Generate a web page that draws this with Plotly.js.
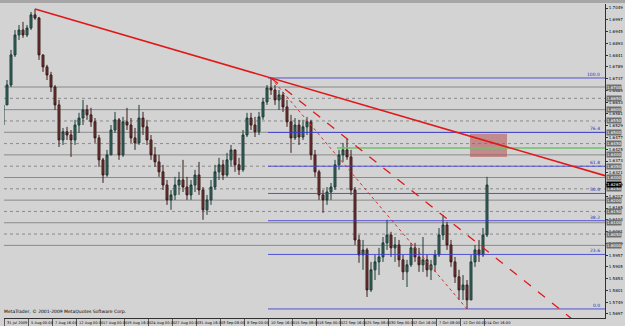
<!DOCTYPE html>
<html><head><meta charset="utf-8">
<script src="https://cdn.plot.ly/plotly-3.0.1.min.js"></script>
<style>html,body{margin:0;padding:0;background:#d3d3d3;}#chart{width:625px;height:326px;}</style>
</head><body><div id="chart"></div>
<script>
// ---- data (GBPUSD H4; each candle = one plotted bar) ----
const opens = [1.6532,1.6621,1.6709,1.6842,1.6930,1.6952,1.6930,1.6961,1.7019,1.7005,
1.6842,1.6789,1.6753,1.6700,1.6621,1.6466,1.6502,1.6488,1.6466,1.6532,
1.6563,1.6599,1.6577,1.6546,1.6475,1.6378,1.6311,1.6400,1.6510,1.6555,
1.6400,1.6546,1.6532,1.6475,1.6453,1.6563,1.6524,1.6466,1.6400,1.6369,
1.6325,1.6267,1.6201,1.6223,1.6267,1.6289,1.6258,1.6223,1.6267,1.6311,
1.6245,1.6157,1.6201,1.6258,1.6325,1.6356,1.6311,1.6378,1.6422,1.6356,
1.6334,1.6488,1.6563,1.6532,1.6502,1.6568,1.6634,1.6696,1.6687,1.6643,
1.6665,1.6612,1.6546,1.6475,1.6532,1.6479,1.6524,1.6546,1.6400,1.6325,
1.6223,1.6201,1.6236,1.6258,1.6356,1.6400,1.6422,1.6391,1.6245,1.6024,
1.5958,1.5980,1.5803,1.5892,1.5927,1.5949,1.6011,1.6046,1.5989,1.6002,
1.5936,1.5883,1.5914,1.5989,1.5949,1.5914,1.5936,1.5892,1.5914,1.5958,
1.6046,1.6090,1.6002,1.5927,1.5861,1.5803,1.5825,1.5759,1.5927,1.5980,
1.5958,1.6046];
const highs = [1.6643,1.6731,1.6864,1.6952,1.6974,1.6988,1.6974,1.7032,1.7045,1.7010,
1.6842,1.6798,1.6767,1.6709,1.6643,1.6519,1.6524,1.6510,1.6555,1.6586,
1.6643,1.6621,1.6608,1.6563,1.6488,1.6387,1.6422,1.6532,1.6590,1.6563,
1.6568,1.6608,1.6563,1.6519,1.6621,1.6590,1.6555,1.6488,1.6435,1.6400,
1.6356,1.6289,1.6245,1.6303,1.6325,1.6378,1.6303,1.6289,1.6334,1.6369,
1.6258,1.6223,1.6289,1.6356,1.6387,1.6378,1.6409,1.6444,1.6422,1.6387,
1.6510,1.6586,1.6586,1.6568,1.6590,1.6652,1.6709,1.6740,1.6709,1.6687,
1.6678,1.6643,1.6577,1.6563,1.6555,1.6555,1.6568,1.6555,1.6422,1.6334,
1.6245,1.6258,1.6276,1.6378,1.6422,1.6453,1.6471,1.6422,1.6258,1.6046,
1.6024,1.5989,1.5927,1.5958,1.5989,1.6037,1.6113,1.6060,1.6037,1.6024,
1.5958,1.5936,1.6011,1.6011,1.5989,1.6037,1.5958,1.5936,1.5980,1.6077,
1.6135,1.6104,1.6024,1.5949,1.5892,1.5869,1.5847,1.5958,1.6002,1.6024,
1.6077,1.6303];
const lows = [1.6510,1.6621,1.6700,1.6833,1.6908,1.6917,1.6921,1.6952,1.6997,1.6820,
1.6767,1.6731,1.6678,1.6599,1.6435,1.6444,1.6466,1.6391,1.6444,1.6497,
1.6532,1.6555,1.6524,1.6453,1.6347,1.6276,1.6303,1.6400,1.6497,1.6378,
1.6391,1.6510,1.6453,1.6422,1.6444,1.6488,1.6444,1.6378,1.6347,1.6303,
1.6245,1.6179,1.6157,1.6201,1.6223,1.6236,1.6201,1.6201,1.6236,1.6223,
1.6113,1.6135,1.6179,1.6245,1.6289,1.6289,1.6303,1.6347,1.6325,1.6311,
1.6325,1.6479,1.6510,1.6479,1.6488,1.6555,1.6621,1.6665,1.6621,1.6599,
1.6590,1.6524,1.6409,1.6466,1.6444,1.6466,1.6488,1.6378,1.6303,1.6201,
1.6144,1.6179,1.6201,1.6245,1.6334,1.6369,1.6378,1.6223,1.6002,1.5923,
1.5892,1.5772,1.5794,1.5847,1.5869,1.5927,1.5980,1.5949,1.5927,1.5905,
1.5847,1.5816,1.5905,1.5927,1.5883,1.5883,1.5861,1.5847,1.5883,1.5949,
1.6024,1.5980,1.5905,1.5834,1.5759,1.5759,1.5719,1.5759,1.5905,1.5927,
1.5949,1.6037];
const closes = [1.6621,1.6709,1.6842,1.6930,1.6952,1.6930,1.6961,1.7019,1.7005,1.6842,
1.6789,1.6753,1.6700,1.6621,1.6466,1.6502,1.6488,1.6466,1.6532,1.6563,
1.6599,1.6577,1.6546,1.6475,1.6378,1.6311,1.6400,1.6510,1.6555,1.6400,
1.6546,1.6532,1.6475,1.6453,1.6563,1.6524,1.6466,1.6400,1.6369,1.6325,
1.6267,1.6201,1.6223,1.6267,1.6289,1.6258,1.6223,1.6267,1.6311,1.6245,
1.6157,1.6201,1.6258,1.6325,1.6356,1.6311,1.6378,1.6422,1.6356,1.6334,
1.6488,1.6563,1.6532,1.6502,1.6568,1.6634,1.6696,1.6687,1.6643,1.6665,
1.6612,1.6546,1.6475,1.6532,1.6479,1.6524,1.6546,1.6400,1.6325,1.6223,
1.6201,1.6236,1.6258,1.6356,1.6400,1.6422,1.6391,1.6245,1.6024,1.5958,
1.5980,1.5803,1.5892,1.5927,1.5949,1.6011,1.6046,1.5989,1.6002,1.5936,
1.5883,1.5914,1.5989,1.5949,1.5914,1.5936,1.5892,1.5914,1.5958,1.6046,
1.6090,1.6002,1.5927,1.5861,1.5803,1.5825,1.5759,1.5927,1.5980,1.5958,
1.6046,1.6267];

// x-axis labels (one every 6 plotted bars)
const xLabels = ["31 Jul 2009","5 Aug 00:00","7 Aug 16:00","12 Aug 00:00","17 Aug 00:00","19 Aug 16:00",
"24 Aug 00:00","27 Aug 00:00","31 Aug 16:00","3 Sep 08:00","8 Sep 00:00","10 Sep 16:00",
"15 Sep 08:00","18 Sep 00:00","22 Sep 16:00","25 Sep 08:00","30 Sep 00:00","2 Oct 16:00",
"7 Oct 08:00","12 Oct 00:00","14 Oct 16:00"];
// right-axis price labels
const yTicks = [1.7049,1.6997,1.6945,1.6893,1.6841,1.6789,1.6737,1.6685,1.6633,1.6581,1.6529,
1.6477,1.6425,1.6373,1.6321,1.6269,1.6217,1.6165,1.6113,1.6061,1.6009,1.5957,1.5905,1.5853,
1.5801,1.5749,1.5697];
// horizontal round-number lines
const solidLevels = [1.67,1.66,1.65,1.64,1.63,1.62,1.61,1.60];
const dottedLevels = [1.665,1.655,1.645,1.635,1.625,1.615,1.605];
// fibonacci retracement (anchored on bars)
const fibHighBar = 67, fibLowBar = 116;
const fibRatios = [0, 23.6, 38.2, 50.0, 61.8, 76.4, 100.0];
// trend lines (anchored on bar highs)
const trend1Bars = [8, 67];
const trend2Bars = [67, 86];
// green level and red zone
const greenLevel = 1.6430, greenFromBar = 83.5;
const zoneBars = [116.75, 126], zonePrices = [1.6391, 1.6493];

const idx = opens.map((_, i) => i);
const X0 = 0.25, X1 = 150.5, Y0 = 1.5679, Y1 = 1.7067;
const tickPos = xLabels.map((_, k) => X0 + 6*k);

const shapes = [];
const annotations = [];
// top frame band
shapes.push({type:'rect', xref:'paper', yref:'paper', x0:-0.02, x1:1.05, y0:1+1/314, y1:1+5/314,
  fillcolor:'#a6a6a6', line:{width:0}, layer:'above'});
solidLevels.forEach(p => shapes.push({type:'line', xref:'paper', yref:'y', x0:0, x1:1, y0:p, y1:p,
  line:{color:'#8a8a8a', width:1}, layer:'below'}));
dottedLevels.forEach(p => shapes.push({type:'line', xref:'paper', yref:'y', x0:0, x1:1, y0:p, y1:p,
  line:{color:'#8a8a8a', width:1, dash:'dot'}, layer:'below'}));
// red zone
shapes.push({type:'rect', xref:'x', yref:'y', x0:zoneBars[0], x1:zoneBars[1], y0:zonePrices[0], y1:zonePrices[1],
  fillcolor:'rgba(178,80,80,0.55)', line:{width:0}, layer:'above'});
// green level
shapes.push({type:'line', xref:'x', yref:'y', x0:greenFromBar, x1:X1, y0:greenLevel, y1:greenLevel,
  line:{color:'#6fc06f', width:1.5}, layer:'above'});
// fib
const fHi = highs[fibHighBar], fLo = lows[fibLowBar];
fibRatios.forEach(r => {
  const p = fLo + (fHi - fLo) * r / 100;
  shapes.push({type:'line', xref:'x', yref:'y', x0:fibHighBar - 0.75, x1:X1, y0:p, y1:p,
    line:{color:'rgba(60,60,210,0.85)', width:1}, layer:'above'});
  annotations.push({xref:'paper', yref:'y', x:0.995, y:p, text:r.toFixed(1), showarrow:false,
    xanchor:'right', yanchor:'bottom', yshift:-1, font:{size:4.5, color:'#3030c0', family:'DejaVu Sans'}});
});
shapes.push({type:'line', xref:'x', yref:'y', x0:fibHighBar, y0:fHi, x1:fibLowBar, y1:fLo,
  line:{color:'#d03030', width:1, dash:'dot'}, layer:'above'});
// trend lines extended to right edge
function ext(bars){
  const [a,b] = bars; const pa = highs[a], pb = highs[b];
  const s = (pb - pa) / (b - a);
  return {x0:a, y0:pa, x1:X1, y1:pa + s*(X1 - a)};
}
const t1 = ext(trend1Bars);
shapes.push(Object.assign({type:'line', xref:'x', yref:'y', line:{color:'#e01818', width:1.6}, layer:'above'}, t1));
const t2 = ext(trend2Bars);
shapes.push(Object.assign({type:'line', xref:'x', yref:'y', line:{color:'#e01818', width:1.3, dash:'dash'}, layer:'above'}, t2));

// bottom time labels, left-aligned at their tick like MetaTrader
xLabels.forEach((t, k) => annotations.push({xref:'x', yref:'paper', x:tickPos[k], y:0, xanchor:'left', yanchor:'top',
  xshift:1, yshift:-1, text:t, showarrow:false, font:{size:3.6, color:'#000', family:'DejaVu Sans'}, cliponaxis:false}));

// price boxes on right axis
solidLevels.concat(dottedLevels).forEach(p => annotations.push({xref:'paper', yref:'y', x:1, y:p, xanchor:'left',
  text:p.toFixed(4), showarrow:false, bgcolor:'#707070', borderpad:0, xshift:1,
  font:{size:4, color:'#ffffff', family:'DejaVu Sans'}}));
annotations.push({xref:'paper', yref:'y', x:1, y:closes[closes.length-1], xanchor:'left',
  text:closes[closes.length-1].toFixed(4), showarrow:false, bgcolor:'#000000', borderpad:0, xshift:1,
  font:{size:4, color:'#ffffff', family:'DejaVu Sans'}});
annotations.push({xref:'paper', yref:'paper', x:-0.003, y:0.005, xanchor:'left', yanchor:'bottom',
  text:'MetaTrader, © 2001-2009 MetaQuotes Software Corp.', showarrow:false,
  font:{size:4.5, color:'#000', family:'DejaVu Sans'}});

const trace = {type:'candlestick', x:idx, open:opens, high:highs, low:lows, close:closes,
  increasing:{line:{color:'#1c3c36', width:1}, fillcolor:'#3a6a62'},
  decreasing:{line:{color:'#3c1c1c', width:1}, fillcolor:'#7a3434'},
  whiskerwidth:0, hoverinfo:'skip'};

const layout = {
  width:625, height:326, margin:{l:4, r:20, t:4, b:8, pad:0},
  paper_bgcolor:'#d3d3d3', plot_bgcolor:'#d3d3d3', showlegend:false,
  xaxis:{range:[X0, X1], rangeslider:{visible:false}, showgrid:false, zeroline:false,
    tickvals:tickPos, showticklabels:false, ticks:'outside', ticklen:7, tickwidth:1,
    tickcolor:'#5a5a5a', showline:true, linecolor:'#303030', linewidth:1, fixedrange:true},
  yaxis:{range:[Y0, Y1], side:'right', showgrid:false, zeroline:false,
    tickvals:yTicks, ticktext:yTicks.map(v => v.toFixed(4)), ticks:'outside', ticklen:2, tickcolor:'#303030',
    tickfont:{size:4, family:'DejaVu Sans', color:'#000'}, showline:true, linecolor:'#303030', linewidth:1, fixedrange:true},
  shapes:shapes, annotations:annotations
};
Plotly.newPlot('chart', [trace], layout, {staticPlot:true, displayModeBar:false});
</script></body></html>
